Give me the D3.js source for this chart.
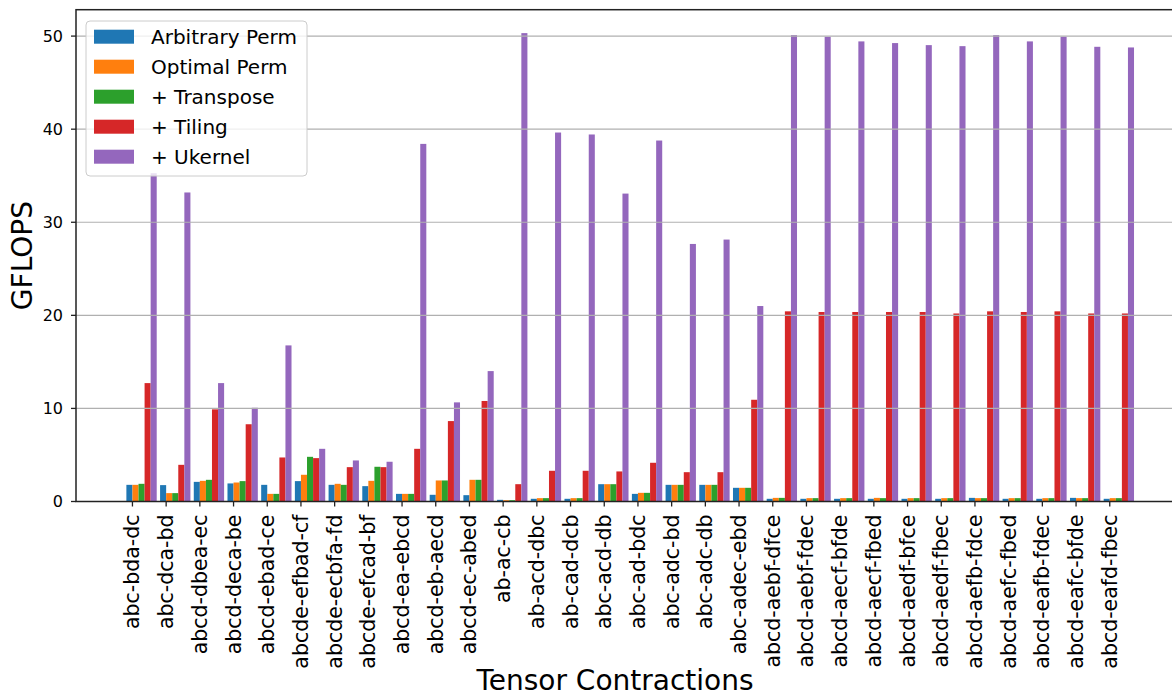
<!DOCTYPE html>
<html>
<head>
<meta charset="utf-8">
<script src="https://cdn.jsdelivr.net/npm/d3@7"></script>
<style>
  body { margin: 0; background: #fff; }
  svg { display: block; font-family: 'DejaVu Sans', sans-serif; }
</style>
</head>
<body>
<svg id="chart"></svg>
<script>
const categories = [
  'abc-bda-dc', 'abc-dca-bd', 'abcd-dbea-ec', 'abcd-deca-be', 'abcd-ebad-ce',
  'abcde-efbad-cf', 'abcde-ecbfa-fd', 'abcde-efcad-bf', 'abcd-ea-ebcd', 'abcd-eb-aecd',
  'abcd-ec-abed', 'ab-ac-cb', 'ab-acd-dbc', 'ab-cad-dcb', 'abc-acd-db',
  'abc-ad-bdc', 'abc-adc-bd', 'abc-adc-db', 'abc-adec-ebd', 'abcd-aebf-dfce',
  'abcd-aebf-fdec', 'abcd-aecf-bfde', 'abcd-aecf-fbed', 'abcd-aedf-bfce', 'abcd-aedf-fbec',
  'abcd-aefb-fdce', 'abcd-aefc-fbed', 'abcd-eafb-fdec', 'abcd-eafc-bfde', 'abcd-eafd-fbec',
];

const seriesNames = ['Arbitrary Perm', 'Optimal Perm', '+ Transpose', '+ Tiling', '+ Ukernel'];

const arbitraryPerm = [1.79, 1.76, 2.11, 1.94, 1.79, 2.19, 1.79, 1.65, 0.82, 0.72,
  0.68, 0.18, 0.29, 0.29, 1.86, 0.82, 1.79, 1.79, 1.47, 0.29,
  0.29, 0.29, 0.29, 0.29, 0.29, 0.39, 0.29, 0.29, 0.39, 0.29];
const optimalPerm = [1.79, 0.9, 2.22, 2.04, 0.82, 2.87, 1.9, 2.22, 0.82, 2.26,
  2.33, 0.14, 0.36, 0.36, 1.86, 0.93, 1.79, 1.79, 1.47, 0.39,
  0.36, 0.36, 0.39, 0.36, 0.36, 0.36, 0.36, 0.36, 0.36, 0.36];
const transpose = [1.9, 0.9, 2.33, 2.19, 0.82, 4.8, 1.79, 3.73, 0.82, 2.26,
  2.33, 0.14, 0.36, 0.36, 1.86, 0.93, 1.79, 1.79, 1.47, 0.39,
  0.36, 0.36, 0.36, 0.36, 0.36, 0.36, 0.36, 0.36, 0.36, 0.36];
const tiling = [12.72, 3.94, 9.9, 8.3, 4.73, 4.66, 3.69, 3.69, 5.66, 8.64,
  10.8, 1.86, 3.3, 3.3, 3.23, 4.16, 3.15, 3.15, 10.93, 20.43,
  20.36, 20.36, 20.36, 20.36, 20.2, 20.43, 20.36, 20.43, 20.2, 20.2];
const ukernel = [35.27, 33.2, 12.72, 10.07, 16.77, 5.66, 4.41, 4.27, 38.42, 10.65,
  14.01, 50.32, 39.64, 39.43, 33.08, 38.78, 27.67, 28.14, 21.0, 50.1,
  49.93, 49.43, 49.25, 49.03, 48.92, 50.1, 49.43, 49.93, 48.85, 48.78];

const yTicks = [0, 10, 20, 30, 40, 50];

const colours = ['#1f77b4', '#ff7f0e', '#2ca02c', '#d62728', '#9467bd'];
const series = [arbitraryPerm, optimalPerm, transpose, tiling, ukernel];

const width = 1172;
const height = 696;
const barWidth = 0.18;

const sel = d3.select('#chart').attr('width', width).attr('height', height);

// right edge of the axes falls just outside the picture, as in the original
const plotLeft = 76;
const plotRight = 1184.4;
const plotTop = 9.7;
const plotBottom = 501.5;

// matplotlib style 5% margin round the bars
const span = categories.length - 1 + 5 * barWidth;
const xMin = -barWidth - 0.05 * span;
const xMax = categories.length - 1 + 4 * barWidth + 0.05 * span;
const xScale = d3.scaleLinear().domain([xMin, xMax]).range([plotLeft, plotRight]);
const yMax = d3.max(ukernel) * 1.05;
const yScale = d3.scaleLinear().domain([0, yMax]).range([plotBottom, plotTop]);

// bars
series.forEach((values, s) => {
  sel.append('g')
    .selectAll('rect')
    .data(values)
    .enter()
    .append('rect')
    .attr('x', (d, i) => xScale(i + (s - 1) * barWidth))
    .attr('width', (d, i) => xScale(i + s * barWidth) - xScale(i + (s - 1) * barWidth))
    .attr('y', d => yScale(d))
    .attr('height', d => yScale(0) - yScale(d))
    .attr('fill', colours[s]);
});

// grid sits above the bars
sel.append('g')
  .selectAll('line')
  .data(yTicks)
  .enter()
  .append('line')
  .attr('x1', plotLeft)
  .attr('x2', plotRight)
  .attr('y1', d => yScale(d))
  .attr('y2', d => yScale(d))
  .attr('stroke', '#b0b0b0')
  .attr('stroke-width', 1.2);

// frame
sel.append('rect')
  .attr('x', plotLeft)
  .attr('y', plotTop)
  .attr('width', plotRight - plotLeft)
  .attr('height', plotBottom - plotTop)
  .attr('fill', 'none')
  .attr('stroke', '#222')
  .attr('stroke-width', 1.5);

// y axis
const yAxis = sel.append('g');
yTicks.forEach(t => {
  yAxis.append('line')
    .attr('x1', plotLeft - 5).attr('x2', plotLeft)
    .attr('y1', yScale(t)).attr('y2', yScale(t))
    .attr('stroke', '#222').attr('stroke-width', 1.3);
  yAxis.append('text')
    .attr('x', plotLeft - 13)
    .attr('y', yScale(t))
    .attr('text-anchor', 'end')
    .attr('dominant-baseline', 'central')
    .attr('font-size', 16)
    .attr('fill', '#000')
    .text(t);
});

// x axis
const xAxis = sel.append('g');
categories.forEach((c, i) => {
  const x = xScale(i);
  xAxis.append('line')
    .attr('x1', x).attr('x2', x)
    .attr('y1', plotBottom).attr('y2', plotBottom + 5)
    .attr('stroke', '#222').attr('stroke-width', 1.3);
  xAxis.append('text')
    .attr('transform', `translate(${x},${plotBottom + 13}) rotate(-90)`)
    .attr('text-anchor', 'end')
    .attr('dominant-baseline', 'central')
    .attr('font-size', 20.5)
    .attr('fill', '#000')
    .text(c);
});

// axis titles
sel.append('text')
  .attr('transform', `translate(22,${(plotTop + plotBottom) / 2}) rotate(-90)`)
  .attr('text-anchor', 'middle')
  .attr('dominant-baseline', 'central')
  .attr('font-size', 28)
  .text('GFLOPS');
sel.append('text')
  .attr('x', 615)
  .attr('y', 690)
  .attr('text-anchor', 'middle')
  .attr('font-size', 28)
  .text('Tensor Contractions');

// legend
const legend = sel.append('g');
legend.append('rect')
  .attr('x', 86)
  .attr('y', 21)
  .attr('width', 221)
  .attr('height', 155)
  .attr('rx', 4)
  .attr('fill', 'rgba(255,255,255,0.8)')
  .attr('stroke', '#cccccc');
seriesNames.forEach((name, s) => {
  const cy = 36.7 + s * 30;
  legend.append('rect')
    .attr('x', 94)
    .attr('y', cy - 7)
    .attr('width', 40)
    .attr('height', 14)
    .attr('fill', colours[s]);
  legend.append('text')
    .attr('x', 151)
    .attr('y', cy)
    .attr('dominant-baseline', 'central')
    .attr('font-size', 20)
    .text(name);
});
</script>
</body>
</html>
